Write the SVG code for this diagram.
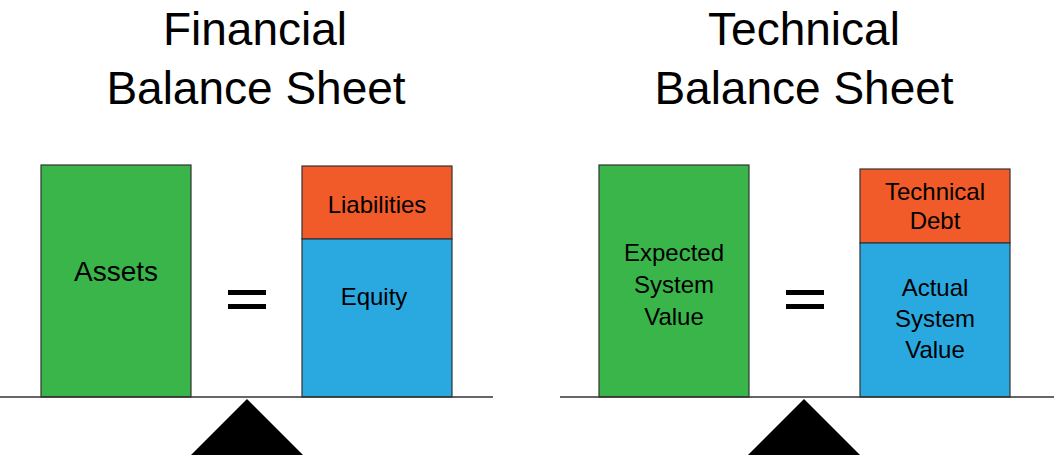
<svg xmlns="http://www.w3.org/2000/svg" width="1054" height="455" viewBox="0 0 1054 455">
  <style>
    .t { font-family: "Liberation Sans", Arial, sans-serif; fill: #000; text-anchor: middle; }
    .title { font-size: 46px; }
    .lbl { font-size: 24px; }
    .box { stroke: #333; stroke-width: 1.2; }
    .g { fill: #3AB54A; }
    .o { fill: #F15A29; }
    .b { fill: #29A9E0; }
    .beam { stroke: #333; stroke-width: 1.5; fill: none; }
    .eq { fill: #000; }
  </style>
  <rect width="1054" height="455" fill="#fff"/>

  <g id="title-financial">
    <text class="t title" x="255" y="45">Financial</text>
    <text class="t title" x="256" y="104">Balance Sheet</text>
  </g>
  <g id="title-technical">
    <text class="t title" x="804" y="45">Technical</text>
    <text class="t title" x="804" y="104">Balance Sheet</text>
  </g>

  <g id="assets">
    <rect class="box g" x="41" y="165" width="150" height="232"/>
    <text class="t" x="116" y="281" font-size="28">Assets</text>
  </g>
  <g id="liabilities">
    <rect class="box o" x="302" y="166" width="150" height="73"/>
    <text class="t lbl" x="377" y="213">Liabilities</text>
  </g>
  <g id="equity">
    <rect class="box b" x="302" y="239" width="150" height="158"/>
    <text class="t lbl" x="374" y="305">Equity</text>
  </g>
  <g id="equals-1">
    <rect class="eq" x="228" y="290" width="38" height="5"/>
    <rect class="eq" x="228" y="304" width="38" height="5"/>
  </g>

  <g id="expected-value">
    <rect class="box g" x="599" y="165" width="150" height="232"/>
    <text class="t lbl" x="674" y="261">Expected</text>
    <text class="t lbl" x="674" y="293">System</text>
    <text class="t lbl" x="674" y="325">Value</text>
  </g>
  <g id="technical-debt">
    <rect class="box o" x="860" y="169" width="150" height="74"/>
    <text class="t lbl" x="935" y="200">Technical</text>
    <text class="t lbl" x="935" y="229">Debt</text>
  </g>
  <g id="actual-value">
    <rect class="box b" x="860" y="243" width="150" height="154"/>
    <text class="t lbl" x="935" y="296">Actual</text>
    <text class="t lbl" x="935" y="327">System</text>
    <text class="t lbl" x="935" y="358">Value</text>
  </g>
  <g id="equals-2">
    <rect class="eq" x="786" y="290" width="38" height="5"/>
    <rect class="eq" x="786" y="304" width="38" height="5"/>
  </g>

  <g id="scales">
    <line class="beam" x1="0" y1="397" x2="493" y2="397"/>
    <line class="beam" x1="560" y1="397" x2="1054" y2="397"/>
    <polygon points="247,399 191,455 303,455" fill="#000"/>
    <polygon points="804,399 748,455 860,455" fill="#000"/>
  </g>
</svg>
